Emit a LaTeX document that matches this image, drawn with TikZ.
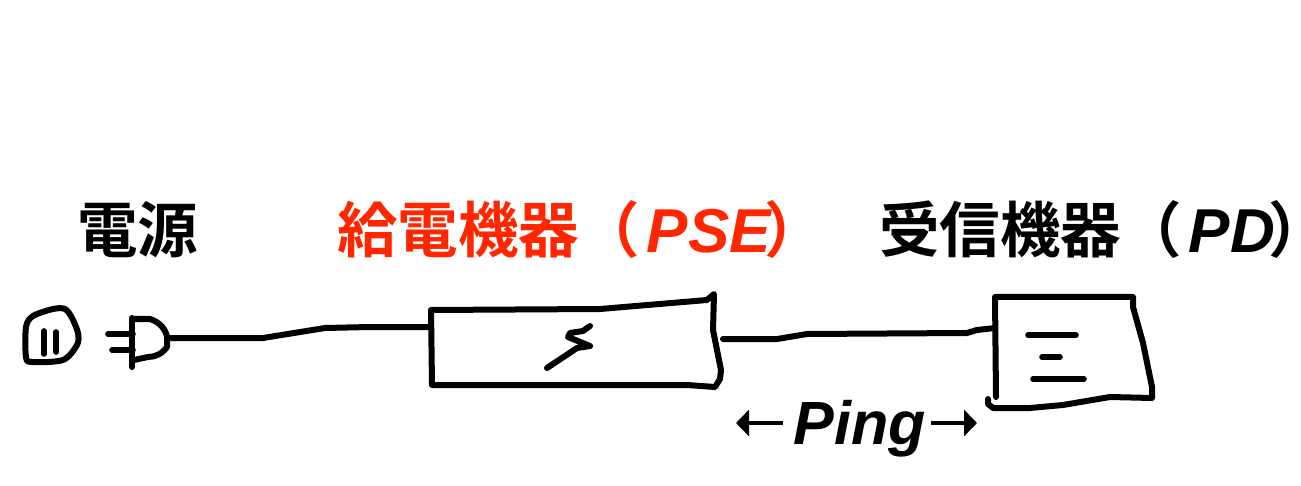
\documentclass[tikz,border=0pt]{standalone}
\usepackage{fontspec}
\usetikzlibrary{arrows.meta}
\setmainfont{Liberation Sans}
\newfontfamily\cjkbold{Noto Sans CJK JP Bold}
\newfontfamily\cjkparen[RawFeature={+halt}]{Noto Sans CJK JP Bold}
\definecolor{pseRed}{RGB}{255,38,0}
\tikzset{
  pen/.style={line width=6pt,line cap=round,line join=round,black},
  penthin/.style={pen,line width=5.6pt},
  caption/.style={inner sep=0pt,anchor=base west,font=\fontsize{60.5}{60.5}\selectfont\cjkbold},
  pingtext/.style={inner sep=0pt,font=\fontsize{61}{61}\selectfont\bfseries\itshape},
  pingarrow/.style={line width=4.6pt,-{Triangle[length=13pt,width=26pt]}}
}
\newcommand{\latintext}[1]{{\kern7pt\fontsize{62}{62}\selectfont\rmfamily\bfseries\itshape #1}}

\begin{document}
\begin{tikzpicture}[x=1pt,y=-1pt]
\useasboundingbox (0,0) rectangle (1301,486);
\node [caption] (power) at (77,253) {電源};
\node [caption,text=pseRed] (pse label) at (337,253) {給電機器（\latintext{PSE}\kern-6pt{\cjkparen ）}};
\node [caption] (pd label) at (879,253) {受信機器（\latintext{PD}\kern-6pt{\cjkparen ）}};
\node [pingtext,anchor=base] (ping) at (860,444) {Ping};
\coordinate (ping left) at (736,423);
\coordinate (ping right) at (977,423);
\draw [pingarrow] (ping.west |- ping left) ++(-11,0) -- (ping left);
\draw [pingarrow] (ping.east |- ping right) ++(5,0) -- (ping right);
% socket
\draw [pen] plot [smooth cycle,tension=0.5] coordinates {(26,327) (33,316) (53,309) (65,309) (72,318) (78,333) (77,345) (63,360) (32,362) (26,357)};
\draw [penthin] (44,331) -- (44,354);
\draw [penthin] (56,332) -- (56,352);
% plug
\coordinate (plug) at (168,338);
\draw [pen] (132,318) -- (132,367);
\draw [pen] (132,319) -- (150,319) .. controls (160,322) and (166,330) .. (167,337) -- (167,347) .. controls (162,354) and (155,357) .. (148,357) -- (134,360);
\draw [penthin] (108,334) -- (133,334);
\draw [penthin] (112,350) -- (133,350);
% power supply box
\coordinate (pse west) at (431,327);
\coordinate (pse east) at (723,339);
\draw [pen] (431,310) -- (600,309) -- (707,300) -- (714,294) -- (713,330) -- (721,370) -- (720,379) -- (715,387) -- (687,385) -- (432,385) -- cycle;
\draw [pen] (590,326) -- (583,331) -- (570,333) -- (568,337) -- (590,346) -- (577,348) -- (547,368);
% receiver box
\coordinate (pd west) at (995,328);
\draw [pen] (996,397) -- (995,297) -- (1133,297) -- (1133,307) -- (1143,343) -- (1152,387) -- (1152,398) -- (1110,397) -- (1063,405) -- (1030,408) -- (993,408) -- (988,404) -- (988,399);
\draw [penthin] (1028,335) -- (1076,335);
\draw [penthin] (1042,357) -- (1060,357);
\draw [penthin] (1033,379) -- (1084,379);
% cables
\draw [pen] (plug) -- (263,338) -- (325,328) -- (370,327) -- (pse west);
\draw [pen] (pse east) -- (777,339) -- (807,334) -- (967,333) -- (977,330) -- (pd west);
\end{tikzpicture}
\end{document}
